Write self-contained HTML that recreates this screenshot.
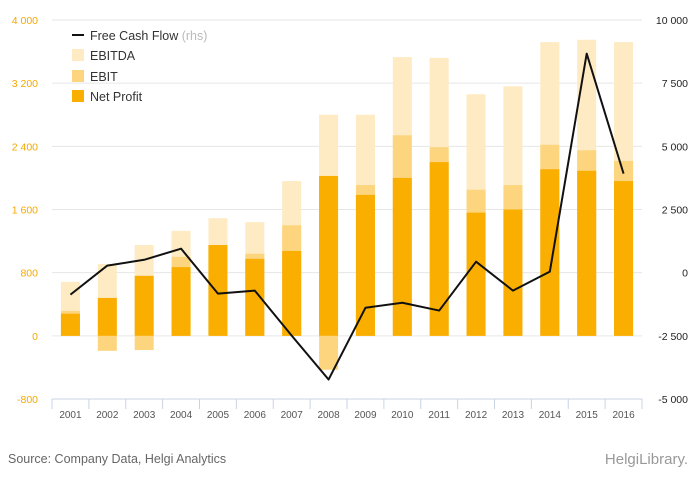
<!DOCTYPE html>
<html><head><meta charset="utf-8"><style>
body{margin:0;background:#fff;font-family:"Liberation Sans",sans-serif}
svg text{font-family:"Liberation Sans",sans-serif}
</style></head><body>
<svg id="c" width="700" height="483" xmlns="http://www.w3.org/2000/svg"></svg>
<script>
const years=["2001","2002","2003","2004","2005","2006","2007","2008","2009","2010","2011","2012","2013","2014","2015","2016"];
const ebitda=[684,910,1150,1330,1490,1440,1960,2800,2800,3530,3520,3060,3160,3720,3750,3720];
const ebit=[316,-190,-180,1000,1150,1040,1400,-430,1910,2540,2390,1850,1910,2420,2350,2215];
const netProfit=[280,480,760,870,1150,975,1075,2025,1785,2000,2200,1560,1600,2110,2090,1960];
const fcf=[-870,280,510,950,-830,-710,-2490,-4230,-1390,-1190,-1500,435,-710,40,8670,3920];
const leftTicks=[-800,0,800,1600,2400,3200,4000];
const rightTicks=[-5000,-2500,0,2500,5000,7500,10000];
const NS="http://www.w3.org/2000/svg";
const svg=document.getElementById('c');
const X0=52,X1=642,Y0=399,Y1=20;
const band=(X1-X0)/years.length;
const xc=i=>X0+band*(i+0.5);
const yL=v=>Y0-(v+800)/4800*(Y0-Y1);
const yR=v=>Y0-(v+5000)/15000*(Y0-Y1);
function el(t,a,p){const e=document.createElementNS(NS,t);for(const k in a)e.setAttribute(k,a[k]);(p||svg).appendChild(e);return e;}
function fmt(v){const s=Math.abs(v).toString();const r=s.length>3?s.slice(0,-3)+' '+s.slice(-3):s;return (v<0?'-':'')+r;}
leftTicks.forEach(v=>{
  if(v>-800){const g=el('line',{x1:X0,x2:X1,y1:yL(v),y2:yL(v),stroke:'#e6e6e6','stroke-width':1});
  
  }
  const t=el('text',{x:38,y:yL(v)+4,'text-anchor':'end','font-size':10.5,fill:'#f5a800'});t.textContent=fmt(v);
  
  
});
rightTicks.forEach(v=>{
  const t=el('text',{x:688,y:yR(v)+4,'text-anchor':'end','font-size':10.5,fill:'#222'});t.textContent=fmt(v);
  
  
});
const bw=19;
function bar(v,i,color,name){
  const y=Math.min(yL(0),yL(v)),h=Math.abs(yL(v)-yL(0));
  const r=el('rect',{x:xc(i)-bw/2,y:y,width:bw,height:h,fill:color});
  
  
}
years.forEach((y,i)=>{bar(ebitda[i],i,'#feebc3','bar-ebitda-'+y);});
years.forEach((y,i)=>{bar(ebit[i],i,'#fdd57e','bar-ebit-'+y);});
years.forEach((y,i)=>{bar(netProfit[i],i,'#f9ae00','bar-net-profit-'+y);});
const ax=el('line',{x1:X0,x2:X1,y1:Y0,y2:Y0,stroke:'#c9d3e6','stroke-width':1});


for(let i=0;i<=years.length;i++){
  const tk=el('line',{x1:X0+band*i,x2:X0+band*i,y1:Y0,y2:Y0+10,stroke:'#c9d3e6','stroke-width':1});
  
  
}
years.forEach((y,i)=>{
  const t=el('text',{x:xc(i),y:418,'text-anchor':'middle','font-size':10,fill:'#555'});t.textContent=y;
  
  
});
const pl=el('polyline',{points:fcf.map((v,i)=>xc(i)+','+yR(v)).join(' '),fill:'none',stroke:'#111','stroke-width':2,'stroke-linejoin':'round'});


const lg=el('g',{});


el('line',{x1:72,x2:84,y1:35,y2:35,stroke:'#111','stroke-width':2},lg);
const t0=el('text',{x:90,y:40,'font-size':12.5,fill:'#333'},lg);
t0.innerHTML='Free Cash Flow <tspan fill="#bbb">(rhs)</tspan>';


[['EBITDA','#feebc3',55],['EBIT','#fdd57e',76],['Net Profit','#f9ae00',96]].forEach(([n,c,y])=>{
  el('rect',{x:72,y:y-6,width:12,height:12,fill:c},lg);
  const t=el('text',{x:90,y:y+5,'font-size':12.5,fill:'#333'},lg);t.textContent=n;
  
  
});
const src=el('text',{x:8,y:463,'font-size':12.5,fill:'#666'});src.textContent='Source: Company Data, Helgi Analytics';


const lo=el('text',{x:688,y:464,'text-anchor':'end','font-size':15,fill:'#999','font-family':'Liberation Serif'});lo.textContent='HelgiLibrary.';


</script>
</body></html>
